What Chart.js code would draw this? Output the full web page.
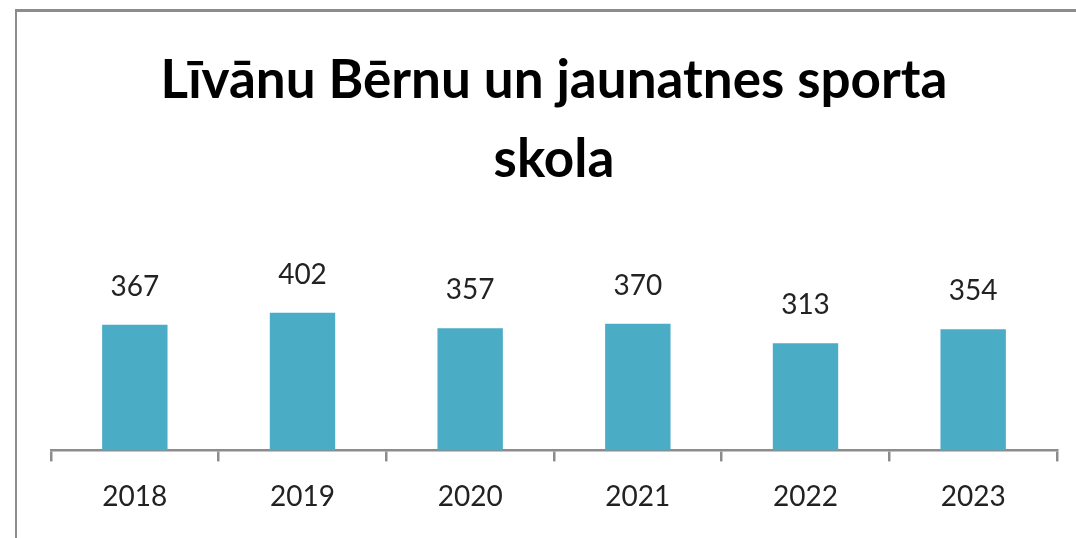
<!DOCTYPE html>
<html>
<head>
<meta charset="utf-8">
<script src="https://cdn.jsdelivr.net/npm/chart.js@4"></script>
<style>
  html, body { margin: 0; padding: 0; background: #fff; overflow: hidden; }
  #wrap { position: relative; width: 1076px; height: 538px; }
  #frame { position: absolute; left: 15px; top: 9px; width: 1200px; height: 700px;
           border-left: 2px solid #8c8c8c; border-top: 3px solid #8c8c8c; }
  canvas { position: absolute; left: 0; top: 0; }
</style>
</head>
<body>
<div id="wrap">
  <div id="frame"></div>
  <canvas id="chart" width="1076" height="538"></canvas>
</div>
<script>
const titleLines = ['Līvānu Bērnu un jaunatnes sporta', 'skola'];
const years = ['2018', '2019', '2020', '2021', '2022', '2023'];
const students = [367, 402, 357, 370, 313, 354];

// vērtības virs stabiņiem
const valueLabels = {
    id: 'valueLabels',
    afterDatasetsDraw(chart) {
        const ctx = chart.ctx;
        const meta = chart.getDatasetMeta(0);
        ctx.save();
        ctx.font = '28px Lato';
        ctx.fillStyle = '#222';
        ctx.textAlign = 'center';
        ctx.textBaseline = 'middle';
        meta.data.forEach((bar, i) => {
            ctx.fillText(String(students[i]), bar.x, bar.y - 38);
        });
        ctx.restore();
    }
};

new Chart(document.getElementById('chart'), {
    type: 'bar',
    data: {
        labels: years,
        datasets: [{
            data: students,
            backgroundColor: '#4BACC6',
            categoryPercentage: 1,
            barPercentage: 0.39
        }]
    },
    options: {
        responsive: false,
        animation: false,
        layout: { padding: { left: 51, right: 19, top: 0, bottom: 5 } },
        plugins: {
            legend: { display: false },
            tooltip: { enabled: false },
            title: {
                display: true,
                text: titleLines,
                color: '#000',
                font: { family: 'Lato', size: 53, weight: 'bold', lineHeight: 1.5 },
                padding: { top: 41, bottom: 45 }
            }
        },
        scales: {
            x: {
                grid: { offset: true, drawOnChartArea: false, drawTicks: true, tickLength: 11, color: '#8c8c8c', lineWidth: 2.5 },
                border: { display: true, color: '#8c8c8c', width: 2.5 },
                ticks: { font: { family: 'Lato', size: 28 }, color: '#222', padding: 19 }
            },
            y: { display: false, min: 0, max: 600 }
        }
    },
    plugins: [valueLabels]
});
</script>
</body>
</html>
